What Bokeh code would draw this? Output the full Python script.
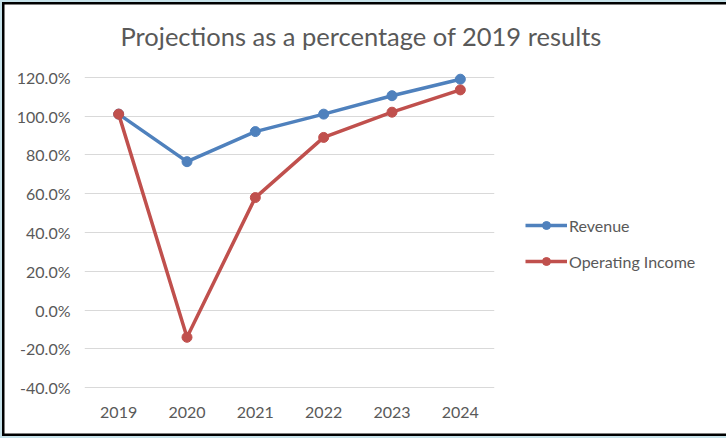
from bokeh.plotting import figure
from bokeh.models import (FactorRange, Range1d, FixedTicker, PrintfTickFormatter,
                          Legend, LegendItem, Title)
from bokeh.embed import file_html
from bokeh.resources import INLINE

years = ["2019", "2020", "2021", "2022", "2023", "2024"]
revenue = [101.0, 76.5, 92.0, 101.0, 110.5, 119.0]
operating_income = [101.0, -14.0, 58.0, 89.0, 102.0, 113.5]
y_ticks = [-40, -20, 0, 20, 40, 60, 80, 100, 120]
title_text = "Projections as a percentage of 2019 results"

BLUE = "#4F81BD"
RED = "#C0504D"
TXT = "#595959"
FONT = "Lato"

p = figure(frame_width=410, frame_height=326, output_backend="svg", toolbar_location=None,
           x_range=FactorRange(factors=years, range_padding=0),
           y_range=Range1d(-44, 124),
           min_border_left=84, min_border_right=232, min_border_top=69, min_border_bottom=43,
           styles={"box-shadow": "inset 0 0 0 2px #c6e2ea, inset 0 0 0 4.5px #000000"})
p.outline_line_color = None
p.background_fill_color = "white"
p.border_fill_alpha = 0

p.xgrid.grid_line_color = None
p.ygrid.grid_line_color = "#D9D9D9"
p.ygrid.grid_line_width = 1

p.yaxis.ticker = FixedTicker(ticks=y_ticks)
p.yaxis.formatter = PrintfTickFormatter(format="%.1f%%")
for ax in (p.xaxis, p.yaxis):
    ax.axis_line_color = None
    ax.major_tick_line_color = None
    ax.minor_tick_line_color = None
    ax.major_tick_out = 0
    ax.major_tick_in = 0
    ax.major_label_text_font = FONT
    ax.major_label_text_font_size = "16px"
    ax.major_label_text_color = TXT
p.yaxis.major_label_standoff = 14
p.xaxis.major_label_standoff = 11

r1l = p.line(years, revenue, line_color=BLUE, line_width=3.5)
r1s = p.scatter(years, revenue, marker="circle", size=10, fill_color=BLUE, line_color=BLUE)
r2l = p.line(years, operating_income, line_color=RED, line_width=3.5)
r2s = p.scatter(years, operating_income, marker="circle", size=10, fill_color=RED, line_color=RED)

legend = Legend(items=[LegendItem(label="Revenue", renderers=[r1l, r1s]),
                       LegendItem(label="Operating Income", renderers=[r2l, r2s])],
                location="top_left", orientation="vertical",
                title=" ", title_text_font_size="16px", title_standoff=97,
                glyph_width=42, glyph_height=20, label_height=20, spacing=16,
                label_standoff=2, padding=31, margin=0,
                border_line_color="white", border_line_alpha=0, background_fill_alpha=0,
                label_text_font=FONT, label_text_font_size="16px", label_text_color=TXT)
p.add_layout(legend, "right")

p.add_layout(Title(text=title_text, align="left", offset=36,
                   text_font=FONT, text_font_size="25.5px", text_font_style="normal",
                   text_color=TXT, standoff=37), "above")

open("out.html", "w").write(file_html(p, INLINE))
